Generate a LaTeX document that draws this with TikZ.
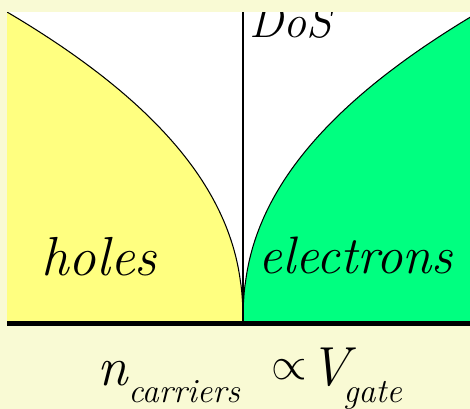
\documentclass[tikz,border=0pt]{standalone}
\usepackage{graphicx}
\definecolor{paleback}{RGB}{249,250,212}
\definecolor{holeyellow}{RGB}{255,255,128}
\definecolor{elecgreen}{RGB}{0,255,128}

\begin{document}
\begin{tikzpicture}[
	  x=0.02cm, y=-0.02cm,
	  curveline/.style={draw=black, line width=0.6pt},
	  axisline/.style={draw=black, line width=1.1pt},
	  baseline/.style={draw=black, line width=0.1cm},
	  bigtext/.style={inner sep=0pt, anchor=base west, font=\fontsize{31.3pt}{32pt}\selectfont\itshape},
	  subtext/.style={inner sep=0pt, anchor=base west, font=\fontsize{19.3pt}{20pt}\selectfont\itshape},
	  dostext/.style={inner sep=0pt, anchor=base west, font=\fontsize{26.2pt}{27pt}\selectfont\itshape}
	]

	\useasboundingbox (0,0) rectangle (470,409);
	\fill[paleback] (0,0) rectangle (470,409);

	\coordinate (origin) at (243,321);
	\coordinate (top) at (243,12);

	% density of states
	\begin{scope}
	  \clip (7,12) rectangle (470,321);
	  \fill[white] (7,12) rectangle (470,321);
	  \fill[holeyellow] (7,321) -- (7,12) -- plot[domain=1:0.002, samples=90] ({243-236*pow(\x,2.222)},{321-309*\x}) -- (origin) -- cycle;
	  \fill[elecgreen] (origin) -- plot[domain=0.002:1, samples=90] ({243+236*pow(\x,2.222)},{321-309*\x}) -- (480,12) -- (480,321) -- cycle;
	  \draw[curveline] plot[domain=1:0.002, samples=90] ({243-236*pow(\x,2.222)},{321-309*\x}) -- (origin);
	  \draw[curveline] (origin) -- plot[domain=0.002:1, samples=90] ({243+236*pow(\x,2.222)},{321-309*\x});
	  \node (dos) [dostext] at (249,37) {DoS};
	\end{scope}

	\draw[axisline] (origin) -- (top);
	\draw[baseline] (7,323.5) -- (470,323.5);

	\node (holes) [bigtext] at (41,275) {holes};
	\node (electrons) [bigtext, font=\fontsize{30pt}{31pt}\selectfont\itshape] at (258,273) {electrons};

	% carrier density
	\node (ncar) [bigtext] at (97,385) {n};
	\node (ncarsub) [subtext] at (128,402) {carriers};
	\node (prop) [inner sep=0pt, anchor=base west] at (271,385) {\raisebox{3pt}{\scalebox{2.6}{$\propto$}}};
	\node (vgate) [bigtext] at (309,385) {V};
	\node (vgatesub) [subtext] at (343,402) {gate};

\end{tikzpicture}
\end{document}
